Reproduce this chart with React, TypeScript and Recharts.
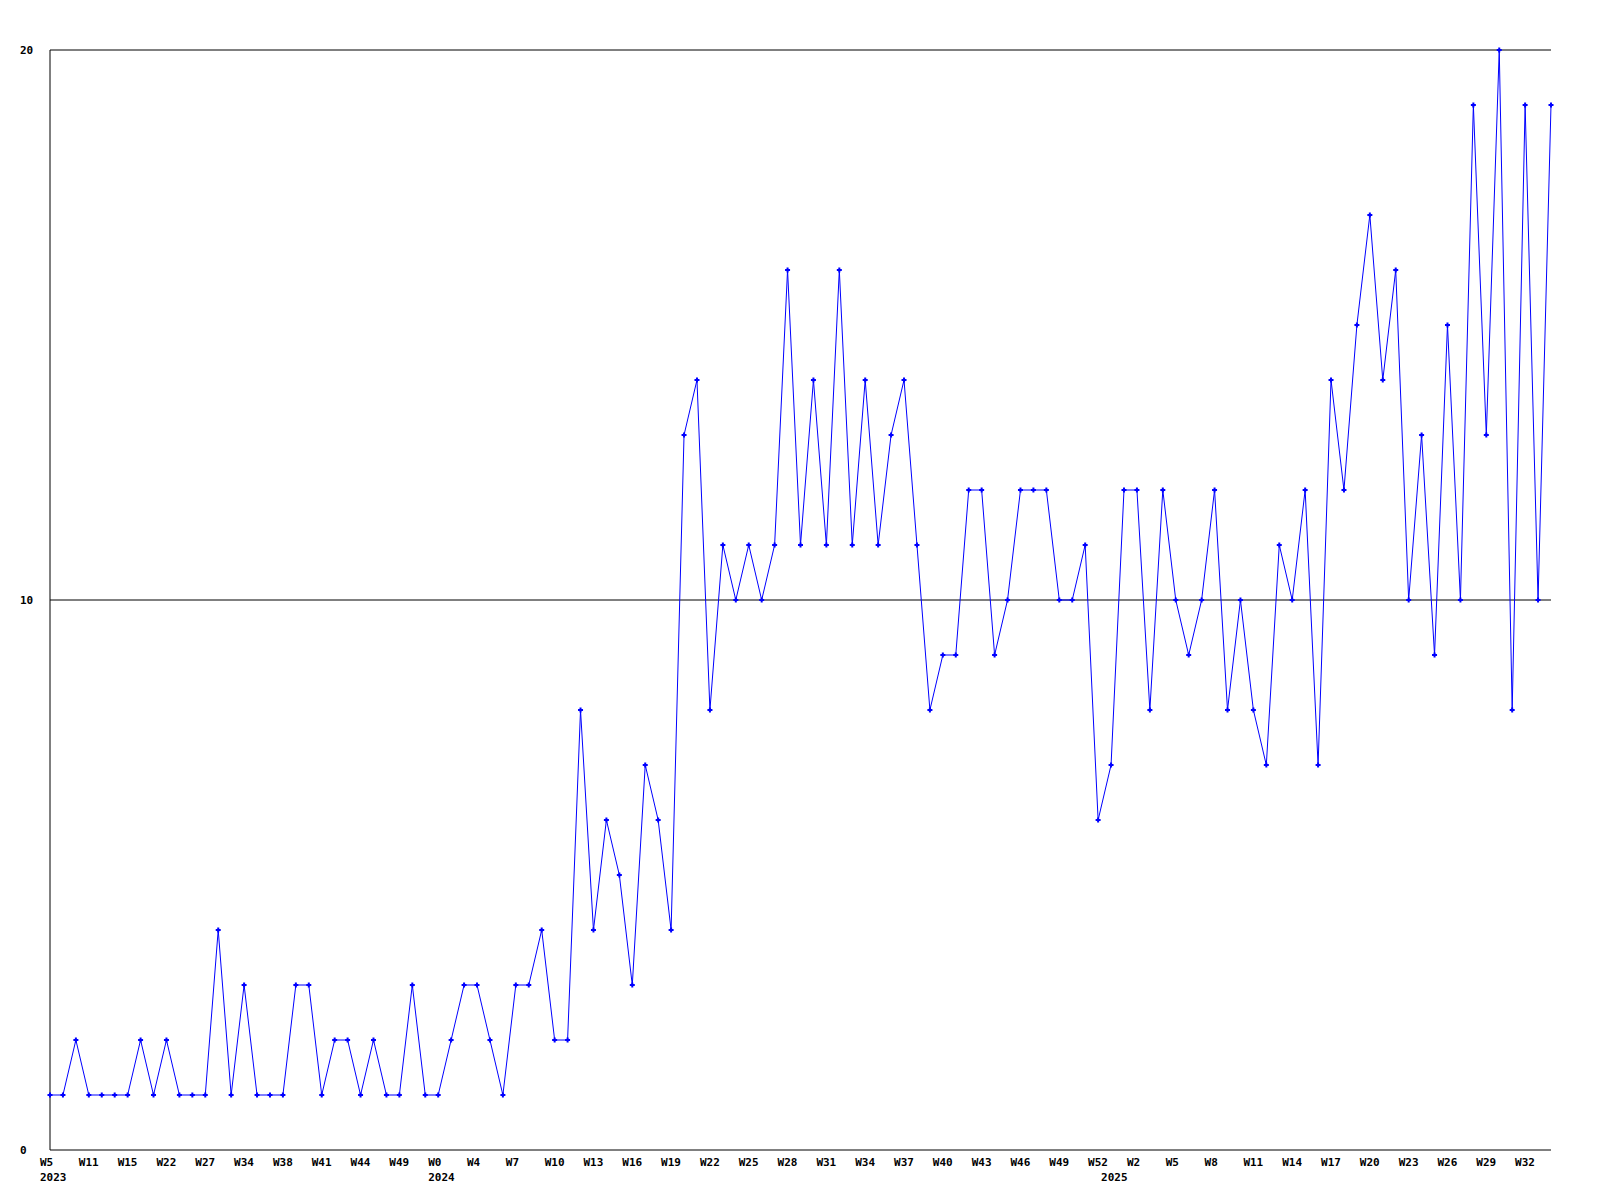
import React from "react";
import {
  LineChart,
  Line,
  XAxis,
  YAxis,
  CartesianGrid,
} from "recharts";

// weekly counts, one per point, left to right
const weekValues = [
  1, 1, 2, 1, 1, 1, 1, 2, 1, 2,
  1, 1, 1, 4, 1, 3, 1, 1, 1, 3,
  3, 1, 2, 2, 1, 2, 1, 1, 3, 1,
  1, 2, 3, 3, 2, 1, 3, 3, 4, 2,
  2, 8, 4, 6, 5, 3, 7, 6, 4, 13,
  14, 8, 11, 10, 11, 10, 11, 16, 11, 14,
  11, 16, 11, 14, 11, 13, 14, 11, 8, 9,
  9, 12, 12, 9, 10, 12, 12, 12, 10, 10,
  11, 6, 7, 12, 12, 8, 12, 10, 9, 10,
  12, 8, 10, 8, 7, 11, 10, 12, 7, 14,
  12, 15, 17, 14, 16, 10, 13, 9, 15, 10,
  19, 13, 20, 8, 19, 10, 19,
];

// one label on every third point
const weekTickLabels = [
  "W5", "W11", "W15", "W22", "W27", "W34", "W38", "W41", "W44", "W49",
  "W0", "W4", "W7", "W10", "W13", "W16", "W19", "W22", "W25", "W28",
  "W31", "W34", "W37", "W40", "W43", "W46", "W49", "W52", "W2", "W5",
  "W8", "W11", "W14", "W17", "W20", "W23", "W26", "W29", "W32",
];
const TICK_EVERY = 3;

// year labels and the point each one starts at
const yearLabels = ["2023", "2024", "2025"];
const yearAt = [0, 30, 82];

const yTicks = [0, 10, 20];

const FONT = "'DejaVu Sans Mono', monospace";

const data = weekValues.map((v, i) => ({ idx: i, count: v }));

const weekAt = weekTickLabels.map((_, i) => i * TICK_EVERY);
const allXTicks = Array.from(new Set([...weekAt, ...yearAt])).sort((a, b) => a - b);

const XTick = (props: any) => {
  const { x, y, payload } = props;
  const wi = weekAt.indexOf(payload.value);
  const yi = yearAt.indexOf(payload.value);
  const style = {
    fontFamily: FONT,
    fontWeight: "bold" as const,
    fontSize: 11,
    fill: "#000",
  };
  return (
    <g>
      {wi >= 0 && (
        <text x={x - 10} y={y + 16} textAnchor="start" {...style}>
          {weekTickLabels[wi]}
        </text>
      )}
      {yi >= 0 && (
        <text x={x - 10} y={y + 31} textAnchor="start" {...style}>
          {yearLabels[yi]}
        </text>
      )}
    </g>
  );
};

const YTick = (props: any) => {
  const { x, y, payload } = props;
  return (
    <text
      x={x - 30}
      y={y + 4}
      textAnchor="start"
      fontFamily={FONT}
      fontWeight="bold"
      fontSize={11}
      fill="#000"
    >
      {payload.value}
    </text>
  );
};

// small plus-shaped point marker
const Marker = (props: any) => {
  const { cx, cy, index } = props;
  if (cx == null || cy == null) return null;
  return (
    <path
      key={`m-${index}`}
      d={`M${cx - 1},${cy - 2.5}h2v1.5h1.5v2h-1.5v1.5h-2v-1.5h-1.5v-2h1.5z`}
      fill="#0000ff"
    />
  );
};

export default function App() {
  return (
    <div style={{ position: "absolute", left: 0, top: 0, background: "#fff" }}>
      <LineChart
        width={1600}
        height={1200}
        data={data}
        margin={{ top: 50, right: 49, left: 0, bottom: 20 }}
      >
        <CartesianGrid
          vertical={false}
          horizontalValues={[10, 20]}
          stroke="#000"
          strokeWidth={1}
        />
        <XAxis
          dataKey="idx"
          type="number"
          domain={[0, weekValues.length - 1]}
          ticks={allXTicks}
          interval={0}
          tick={<XTick />}
          tickLine={false}
          tickSize={0}
          tickMargin={0}
          height={30}
          axisLine={{ stroke: "#000", strokeWidth: 1 }}
        />
        <YAxis
          type="number"
          domain={[0, 20]}
          ticks={yTicks}
          interval={0}
          tick={<YTick />}
          tickLine={false}
          tickSize={0}
          tickMargin={0}
          width={50}
          axisLine={{ stroke: "#000", strokeWidth: 1 }}
        />
        <Line
          type="linear"
          dataKey="count"
          stroke="#0000ff"
          strokeWidth={1}
          dot={<Marker />}
          activeDot={false}
          isAnimationActive={false}
        />
      </LineChart>
    </div>
  );
}
